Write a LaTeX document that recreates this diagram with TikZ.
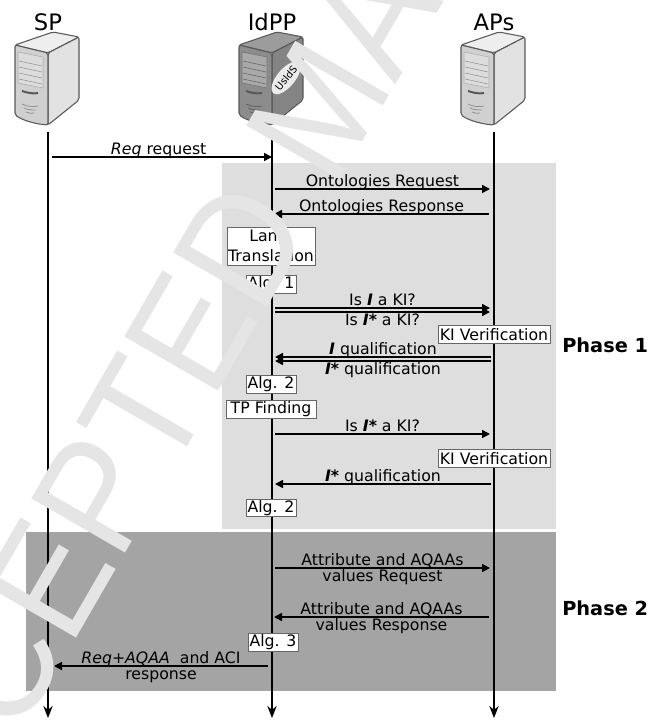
\documentclass[tikz,border=0pt]{standalone}
\usepackage{fontspec}
\setmainfont{DejaVu Sans}
\newfontfamily\wmfont{Liberation Sans}
\usepackage{tikz}
\usetikzlibrary{shapes.geometric, arrows.meta, positioning, calc}
\definecolor{paneone}{HTML}{DEDEDE}
\definecolor{panetwo}{HTML}{A4A4A4}
\definecolor{wmark}{HTML}{E5E5E5}
\definecolor{lightfront}{HTML}{D0D0D0}
\definecolor{lightside}{HTML}{E2E2E2}
\definecolor{lighttop}{HTML}{EEEEEE}
\definecolor{darkfront}{HTML}{8C8C8C}
\definecolor{darkside}{HTML}{848484}
\definecolor{darktop}{HTML}{9C9C9C}
\tikzset{
  pics/server/.style n args={3}{code={
    \draw[srvline, fill=#3] (-33,45) -- (5,32) -- (31,37) -- (0,53) -- cycle;
    \draw[srvline, fill=#2] (0,53) -- (31,37) -- (31,100) -- (0,125) -- cycle;
    \draw[srvline, fill=#1] (-33,45) -- (0,53) -- (0,125) .. controls (-12,124) and (-24,121) .. (-33,115) -- cycle;
    \draw[#1!85!black, fill=#1!75!white, line width=0.5pt] (-30,52) -- (-5,57) -- (-5,88) -- (-30,83) -- cycle;
    \foreach \yy in {61,67,73,79}
      \draw[#1!70!black, line width=0.4pt] (-29,\yy) -- (-6,\yy+5);
    \draw[black!65, line width=1.5pt] (-26,91) .. controls (-20,93) and (-15,94) .. (-10,93);
    \draw[#1!70!black, line width=0.6pt] (-26,104) .. controls (-20,107) and (-15,107) .. (-10,106);
    \draw[#1!70!black, line width=0.6pt] (-24,108) .. controls (-20,110) and (-16,110) .. (-12,110);
    \draw[#1!70!black, line width=0.6pt] (-22,112) .. controls (-19,113) and (-16,114) .. (-14,113);
  }}
}
\begin{document}
\begin{tikzpicture}[
  x=0.75pt, y=-0.75pt,
  srvline/.style={draw=black!65, line width=0.8pt, rounded corners=1.5pt},
  life/.style={-{Stealth[length=9pt, width=7pt]}, line width=1.2pt},
  ar/.style={-{Triangle[length=6pt, width=6pt]}, line width=1.2pt},
  lab/.style={font=\fontsize{11.8}{14}\selectfont, inner sep=0pt, anchor=base, midway},
  labup/.style={lab, yshift=2.2pt},
  labdn/.style={lab, yshift=-10pt},
  head/.style={font=\fontsize{17}{20}\selectfont, inner sep=0pt},
  phase/.style={font=\fontsize{14.5}{16}\selectfont\bfseries, inner sep=0pt},
  box/.style={draw=black!60, fill=white, line width=0.6pt, inner sep=0pt, align=center,
              font=\fontsize{11.8}{15}\selectfont},
  algbox/.style={box, minimum width=37.5pt, minimum height=13pt},
  kibox/.style={box, minimum width=84pt, minimum height=13pt},
  tpbox/.style={box, minimum width=67.5pt, minimum height=13.5pt},
  langbox/.style={box, minimum width=66pt, minimum height=28.5pt}
]
  \path[use as bounding box, fill=white] (0,0) rectangle (648,720);

  \fill[paneone] (222,163) rectangle (556,529);
  \fill[panetwo] (26,532) rectangle (556,691);

  \node[head] (sp)   at (48,22)  {SP};
  \node[head] (idpp) at (272,22) {IdPP};
  \node[head] (aps)  at (494,22) {APs};
  \pic (spsrv)  at (48,0)  {server={lightfront}{lightside}{lighttop}};
  \pic (idpsrv) at (272,0) {server={darkfront}{darkside}{darktop}};
  \pic (apsrv)  at (494,0) {server={lightfront}{lightside}{lighttop}};
  \node[ellipse, fill=black!8, inner sep=0pt, minimum width=27pt, minimum height=13.5pt, rotate=50,
        font=\fontsize{7.5}{8}\selectfont] (usids) at (286,78) {UsIdS};

  % lifelines
  \coordinate (spa)  at (48,132);  \coordinate (spb)  at (48,718);
  \coordinate (idpa) at (272,132); \coordinate (idpb) at (272,718);
  \coordinate (apa)  at (494,132); \coordinate (apb)  at (494,718);
  \draw[life] (spa)  -- (spb);
  \draw[life] (idpa) -- (idpb);
  \draw[life] (apa)  -- (apb);

  % messages
  \coordinate (m1a) at (52,157);   \coordinate (m1b) at (272,157);
  \coordinate (m2a) at (275,189);  \coordinate (m2b) at (490,189);
  \coordinate (m3a) at (489,214);  \coordinate (m3b) at (274,214);
  \coordinate (m4a) at (275,308);  \coordinate (m4b) at (490,308);
  \coordinate (m5a) at (275,312);  \coordinate (m5b) at (490,312);
  \coordinate (m6a) at (491,357);  \coordinate (m6b) at (275,357);
  \coordinate (m7a) at (491,361);  \coordinate (m7b) at (275,361);
  \coordinate (m8a) at (275,434);  \coordinate (m8b) at (490,434);
  \coordinate (m9a) at (491,484);  \coordinate (m9b) at (275,484);
  \coordinate (m10a) at (275,568); \coordinate (m10b) at (490,568);
  \coordinate (m11a) at (489,617); \coordinate (m11b) at (274,617);
  \coordinate (m12a) at (268,666); \coordinate (m12b) at (54,666);

  \draw[ar] (m1a) -- node[labup, xshift=-2.5pt] (req) {\textit{Req} request} (m1b);
  \draw[ar] (m2a) -- node[labup] (ontreq) {Ontologies Request} (m2b);
  \draw[ar] (m3a) -- node[labup] (ontres) {Ontologies Response} (m3b);
  \draw[ar] (m4a) -- node[labup] (isi) {Is \textbf{\textit{I}} a KI?} (m4b);
  \draw[ar] (m5a) -- node[labdn] (isis) {Is \textbf{\textit{I*}} a KI?} (m5b);
  \draw[ar] (m6a) -- node[labup] (qi) {\textbf{\textit{I}} qualification} (m6b);
  \draw[ar] (m7a) -- node[labdn] (qis) {\textbf{\textit{I*}} qualification} (m7b);
  \draw[ar] (m8a) -- node[labup] (isis2) {Is \textbf{\textit{I*}} a KI?} (m8b);
  \draw[ar] (m9a) -- node[labup] (qis2) {\textbf{\textit{I*}} qualification} (m9b);
  \draw[ar] (m10a) -- node[labup] (attreq) {Attribute and AQAAs} node[labdn] (valreq) {values Request} (m10b);
  \draw[ar] (m11a) -- node[labup] (attres) {Attribute and AQAAs} node[labdn] (valres) {values Response} (m11b);
  \draw[ar] (m12a) -- node[labup] (reqaqaa) {\textit{Req+AQAA}~ and ACI} node[labdn] (resp) {response} (m12b);

  % boxes on the lifelines
  \node[langbox] (lang) at (271,246) {Lang.\\Translation};
  \node[algbox] (alg1) at (271,284.5) {Alg. 1};
  \node[kibox] (ki1) at (494,334.5) {KI Verification};
  \node[algbox] (alg2) at (271,384.5) {Alg. 2};
  \node[tpbox] (tp) at (271,409) {TP Finding};
  \node[kibox] (ki2) at (494,458.5) {KI Verification};
  \node[algbox] (alg2b) at (271,508) {Alg. 2};
  \node[algbox] (alg3) at (273,642.5) {Alg. 3};

  \node[phase, anchor=base west] (ph1) at (562,352) {Phase 1};
  \node[phase, anchor=base west] (ph2) at (562,615) {Phase 2};

  \begin{scope}
    \clip (0,0) rectangle (648,720);
    \node[rotate=60, anchor=base west, inner sep=0pt, text=wmark,
          font=\wmfont\fontsize{118}{125}\selectfont] (wm) at (-84,916) {\scalebox{0.93}[1]{ACCEPTED MANUSCRIPT}};
  \end{scope}
\end{tikzpicture}
\end{document}
